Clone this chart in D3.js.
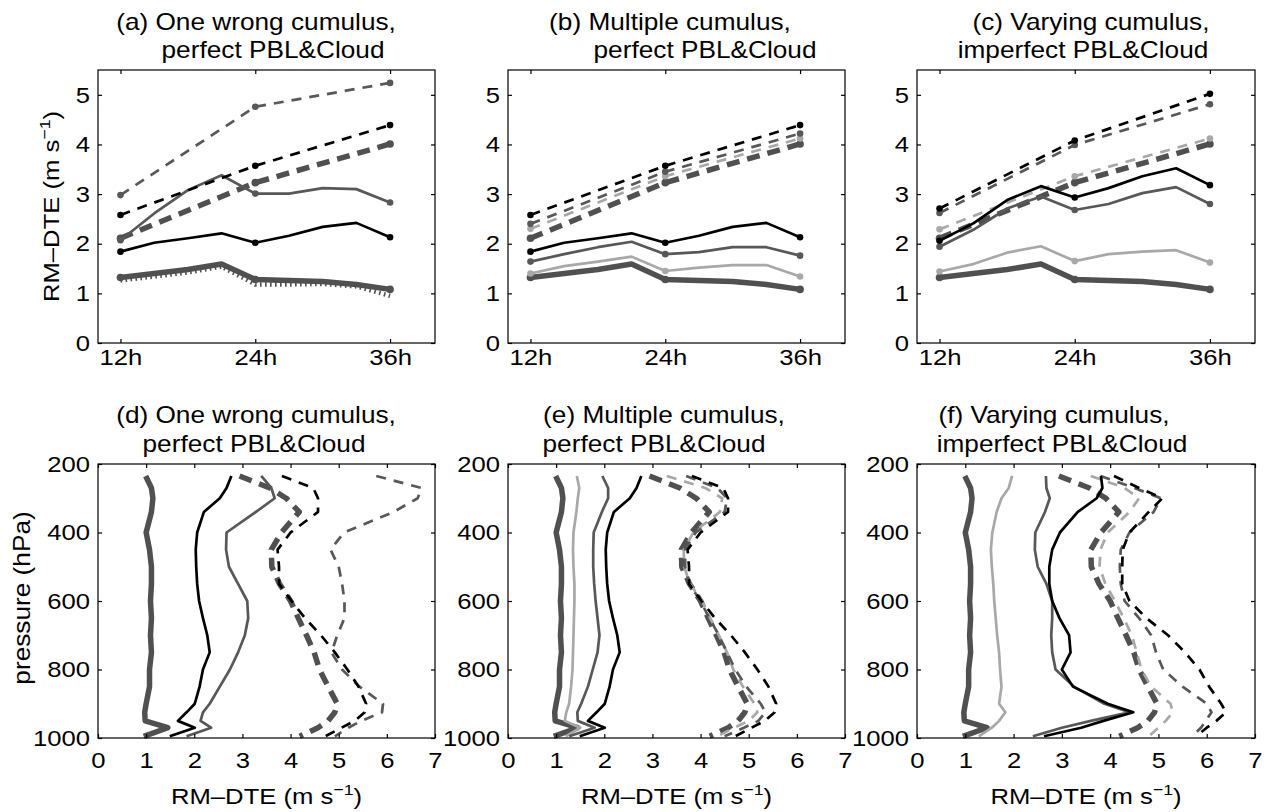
<!DOCTYPE html>
<html>
<head>
<meta charset="utf-8">
<script src="https://cdn.jsdelivr.net/npm/d3@7"></script>
<style>
  body { margin: 0; background: #fff; }
  svg text { font-family: "Liberation Sans", Arial, Helvetica, sans-serif; fill: #000; }
</style>
</head>
<body>
<div id="chart"></div>
<script>
const W = 1264, H = 812;
const SX = 1.14; // the original figure is stretched horizontally

// ---- time axis (a)-(c)
const hours = [12, 15, 18, 21, 24, 27, 30, 33, 36];
const markHours = [12, 24, 36];
const timeTickLabels = ["12h", "24h", "36h"];
const rmTicks = [0, 1, 2, 3, 4, 5];

// ---- vertical profiles (d)-(f)
const levels = [235, 270, 300, 340, 400, 450, 500, 550, 600, 650, 700, 750, 800, 850, 900, 925, 950, 970, 995];
const pressureTicks = [200, 400, 600, 800, 1000];
const dteTicks = [0, 1, 2, 3, 4, 5, 6, 7];

// time series, solid = every 3h, dashed = 12/24/36h
const ctrlSolid      = [1.32, 1.40, 1.48, 1.59, 1.28, 1.26, 1.24, 1.18, 1.08];
const ctrlDashed     = [2.11, 3.23, 4.01];
const aDotted        = [1.26, 1.34, 1.42, 1.54, 1.18, 1.18, 1.19, 1.14, 0.95];
const oneBlackSolid  = [1.84, 2.02, 2.11, 2.21, 2.02, 2.16, 2.34, 2.42, 2.13];
const oneBlackDashed = [2.58, 3.57, 4.39];
const aGraySolid     = [2.07, 2.61, 3.08, 3.38, 3.01, 3.01, 3.12, 3.10, 2.83];
const aGrayDashed    = [2.98, 4.76, 5.24];
const bGraySolid     = [1.64, 1.79, 1.93, 2.04, 1.79, 1.83, 1.93, 1.93, 1.76];
const bGrayDashed    = [2.40, 3.45, 4.22];
const bLightSolid    = [1.40, 1.55, 1.64, 1.74, 1.45, 1.52, 1.57, 1.57, 1.34];
const bLightDashed   = [2.30, 3.36, 4.12];
const cBlackSolid    = [2.06, 2.41, 2.88, 3.16, 2.93, 3.12, 3.36, 3.52, 3.18];
const cBlackDashed   = [2.71, 4.08, 5.02];
const cGraySolid     = [1.94, 2.28, 2.71, 2.95, 2.68, 2.80, 3.02, 3.14, 2.80];
const cGrayDashed    = [2.62, 3.99, 4.81];
const cLightSolid    = [1.44, 1.59, 1.82, 1.95, 1.65, 1.79, 1.84, 1.87, 1.62];
const cLightDashed   = [2.29, 3.36, 4.12];

// profiles, one value per level
const ctrlSolidProf  = [0.99, 1.11, 1.14, 1.11, 1.00, 1.07, 1.11, 1.11, 1.09, 1.11, 1.09, 1.11, 1.07, 1.07, 1.00, 0.97, 0.98, 1.45, 0.95];
const ctrlDashedProf = [2.94, 3.57, 3.91, 4.18, 3.81, 3.60, 3.61, 3.77, 4.00, 4.16, 4.33, 4.49, 4.60, 4.78, 4.97, 4.92, 4.78, 4.57, 4.19];
const oneBlackProf   = [2.77, 2.67, 2.53, 2.20, 2.06, 2.03, 2.04, 2.06, 2.10, 2.18, 2.27, 2.32, 2.18, 2.11, 2.01, 1.84, 1.66, 2.01, 1.49];
const oneBlackDProf  = [3.82, 4.47, 4.57, 4.57, 4.00, 3.73, 3.76, 3.76, 4.02, 4.30, 4.63, 4.92, 5.18, 5.41, 5.57, 5.54, 5.33, 5.06, 4.72];
const dGrayProf      = [3.39, 3.60, 3.67, 3.28, 2.67, 2.66, 2.72, 2.91, 3.10, 3.12, 3.05, 2.91, 2.74, 2.53, 2.32, 2.18, 2.13, 2.35, 1.84];
const dGrayDProf     = [5.78, 6.72, 6.64, 6.14, 5.11, 4.83, 5.00, 5.07, 5.12, 5.12, 4.97, 4.85, 5.07, 5.43, 5.92, 5.90, 5.47, 5.20, 4.92];
const eGrayProf      = [1.96, 2.08, 2.08, 1.95, 1.78, 1.77, 1.77, 1.79, 1.82, 1.86, 1.90, 1.86, 1.76, 1.66, 1.52, 1.44, 1.45, 1.80, 1.27];
const eGrayDProf     = [3.70, 4.35, 4.55, 4.50, 3.90, 3.68, 3.68, 3.76, 4.00, 4.18, 4.38, 4.55, 4.72, 4.95, 5.25, 5.35, 5.20, 4.90, 4.50];
const eLightProf     = [1.43, 1.48, 1.45, 1.42, 1.36, 1.35, 1.36, 1.38, 1.38, 1.37, 1.36, 1.35, 1.34, 1.31, 1.27, 1.21, 1.18, 1.50, 1.20];
const eLightDProf    = [3.30, 4.10, 4.45, 4.40, 3.85, 3.65, 3.66, 3.78, 4.03, 4.20, 4.38, 4.55, 4.68, 4.88, 5.12, 5.18, 5.00, 4.70, 4.35];
const fBlackProf     = [3.81, 3.84, 3.72, 3.33, 2.96, 2.80, 2.74, 2.74, 2.80, 2.95, 3.15, 3.18, 3.00, 3.23, 3.95, 4.48, 3.86, 3.40, 2.63];
const fBlackDProf    = [4.08, 4.60, 5.08, 4.80, 4.40, 4.26, 4.25, 4.25, 4.40, 4.75, 5.20, 5.55, 5.85, 6.05, 6.30, 6.40, 6.20, 6.00, 5.78];
const fGrayProf      = [2.67, 2.68, 2.75, 2.65, 2.45, 2.44, 2.50, 2.68, 2.80, 2.80, 2.78, 2.80, 2.87, 3.25, 3.88, 4.40, 3.60, 3.00, 2.40];
const fGrayDProf     = [3.80, 4.50, 5.05, 4.90, 4.40, 4.22, 4.20, 4.22, 4.30, 4.60, 4.85, 4.95, 5.10, 5.50, 6.00, 6.10, 5.98, 5.88, 5.70];
const fLightProf     = [1.97, 1.90, 1.75, 1.65, 1.56, 1.53, 1.55, 1.58, 1.60, 1.63, 1.66, 1.70, 1.72, 1.75, 1.70, 1.83, 1.70, 1.55, 1.28];
const fLightDProf    = [3.60, 4.30, 4.60, 4.40, 3.95, 3.80, 3.78, 3.90, 4.10, 4.28, 4.45, 4.55, 4.65, 4.85, 5.25, 5.30, 5.15, 5.00, 4.80];

const titles = [
  ["(a) One wrong cumulus,", "perfect PBL&Cloud"],
  ["(b) Multiple cumulus,", "perfect PBL&Cloud"],
  ["(c) Varying cumulus,", "imperfect PBL&Cloud"],
  ["(d) One wrong cumulus,", "perfect PBL&Cloud"],
  ["(e) Multiple cumulus,", "perfect PBL&Cloud"],
  ["(f) Varying cumulus,", "imperfect PBL&Cloud"]
];

const styles = {
  ctrl:  { color: "#505050", width: 5.5, dash: "13,8", r: 3.8 },
  black: { color: "#000000", width: 2.7, dash: "10,8", r: 3.3 },
  gray:  { color: "#585858", width: 2.7, dash: "10,8", r: 3.3 },
  light: { color: "#a8a8a8", width: 2.7, dash: "10,8", r: 3.3 },
  dot:   { color: "#505050", width: 4.5, dash: "1.6,3.4", r: 0 }
};

// [style, values, dashed]
const topSeries = [
  [["ctrl", ctrlSolid], ["ctrl", ctrlDashed, true], ["dot", aDotted],
   ["gray", aGraySolid], ["gray", aGrayDashed, true], ["black", oneBlackSolid], ["black", oneBlackDashed, true]],
  [["ctrl", ctrlSolid], ["ctrl", ctrlDashed, true], ["light", bLightSolid], ["light", bLightDashed, true],
   ["gray", bGraySolid], ["gray", bGrayDashed, true], ["black", oneBlackSolid], ["black", oneBlackDashed, true]],
  [["ctrl", ctrlSolid], ["ctrl", ctrlDashed, true], ["light", cLightSolid], ["light", cLightDashed, true],
   ["gray", cGraySolid], ["gray", cGrayDashed, true], ["black", cBlackSolid], ["black", cBlackDashed, true]]
];
const profSeries = [
  [["ctrl", ctrlSolidProf], ["ctrl", ctrlDashedProf, true], ["gray", dGrayProf], ["gray", dGrayDProf, true],
   ["black", oneBlackProf], ["black", oneBlackDProf, true]],
  [["ctrl", ctrlSolidProf], ["ctrl", ctrlDashedProf, true], ["light", eLightProf], ["light", eLightDProf, true],
   ["gray", eGrayProf], ["gray", eGrayDProf, true], ["black", oneBlackProf], ["black", oneBlackDProf, true]],
  [["ctrl", ctrlSolidProf], ["ctrl", ctrlDashedProf, true], ["light", fLightProf], ["light", fLightDProf, true],
   ["gray", fGrayProf], ["gray", fGrayDProf, true], ["black", fBlackProf], ["black", fBlackDProf, true]]
];

// layout
const colX = [[98, 435], [508, 845], [917, 1255]];
const topRow = { top: 70, bottom: 343, t1: 30, t2: 57.5 };
const botRow = { top: 464, bottom: 738, t1: 423, t2: 452 };
const titleX = [[256, 273], [670, 705], [1091, 1083], [256, 254], [664, 654], [1054, 1062]];

const svg = d3.select("#chart").append("svg")
  .attr("width", W).attr("height", H);

function stretched(x, y, size, rotate) {
  return svg.append("text")
    .attr("transform", `translate(${x},${y})` + (rotate ? " rotate(-90)" : "") + ` scale(${SX},1)`)
    .attr("text-anchor", "middle")
    .attr("font-size", size);
}

function dteLabel(t) {
  t.append("tspan").text("RM\u2013DTE (m s");
  t.append("tspan").attr("font-size", 15.5).attr("dy", -9).text("\u22121");
  t.append("tspan").attr("dy", 9).text(")");
}

function axes(g, x, y, top, bottom, xTicks, xFmt, yTicks, xPad) {
  const fs = 22.5;
  const ax = [
    g.append("g").attr("transform", `translate(0,${bottom})`)
      .call(d3.axisBottom(x).tickValues(xTicks).tickFormat(xFmt).tickSizeInner(-4).tickSizeOuter(0).tickPadding(xPad)),
    g.append("g").attr("transform", `translate(0,${top})`)
      .call(d3.axisTop(x).tickValues(xTicks).tickFormat("").tickSizeInner(-4).tickSizeOuter(0)),
    g.append("g").attr("transform", `translate(${x.range()[0]},0)`)
      .call(d3.axisLeft(y).tickValues(yTicks).tickFormat(d3.format("d")).tickSizeInner(-4).tickSizeOuter(0).tickPadding(7)),
    g.append("g").attr("transform", `translate(${x.range()[1]},0)`)
      .call(d3.axisRight(y).tickValues(yTicks).tickFormat("").tickSizeInner(-4).tickSizeOuter(0))
  ];
  ax.forEach(a => {
    a.attr("font-size", fs);
    a.select(".domain").remove();
    a.selectAll(".tick line").attr("stroke", "#000").attr("stroke-width", 1.2);
    a.selectAll(".tick text").attr("transform", `scale(${SX},1)`);
  });
  g.append("rect")
    .attr("x", x.range()[0]).attr("y", top)
    .attr("width", x.range()[1] - x.range()[0]).attr("height", bottom - top)
    .attr("fill", "none").attr("stroke", "#000").attr("stroke-width", 1.2);
}

function drawSeries(g, s, px, py) {
  const st = styles[s[0]];
  const vals = s[1];
  g.append("path")
    .datum(vals)
    .attr("fill", "none")
    .attr("stroke", st.color)
    .attr("stroke-width", st.width)
    .attr("stroke-linejoin", "round")
    .attr("stroke-dasharray", s[2] || s[0] === "dot" ? st.dash : null)
    .attr("d", d3.line().x((d, i) => px(d, i, vals)).y((d, i) => py(d, i, vals)));
  return st;
}

// top row: time series
topSeries.forEach((series, k) => {
  const g = svg.append("g");
  const x = d3.scaleLinear([10, 40], colX[k]);
  const y = d3.scaleLinear([0, 5.5], [topRow.bottom, topRow.top]);
  const hx = vals => (vals.length === hours.length ? hours : markHours);
  series.forEach(s => {
    const st = drawSeries(g, s, (d, i, v) => x(hx(v)[i]), d => y(d));
    if (st.r > 0) {
      const hs = hx(s[1]);
      const pts = s[1].map((v, i) => [hs[i], v]).filter(p => markHours.includes(p[0]));
      g.selectAll(null).data(pts).join("circle")
        .attr("cx", p => x(p[0])).attr("cy", p => y(p[1]))
        .attr("r", st.r).attr("fill", st.color);
    }
  });
  axes(g, x, y, topRow.top, topRow.bottom, markHours, (d, i) => timeTickLabels[i], rmTicks, 6);
});

// bottom row: profiles
profSeries.forEach((series, k) => {
  const g = svg.append("g");
  const x = d3.scaleLinear([0, 7], colX[k]);
  const y = d3.scaleLinear([200, 1000], [botRow.top, botRow.bottom]);
  series.forEach(s => drawSeries(g, s, d => x(d), (d, i) => y(levels[i])));
  axes(g, x, y, botRow.top, botRow.bottom, dteTicks, d3.format("d"), pressureTicks, 14);
  dteLabel(stretched((colX[k][0] + colX[k][1]) / 2, 804, 22.5));
});

// titles
titles.forEach((t, k) => {
  const row = k < 3 ? topRow : botRow;
  stretched(titleX[k][0], row.t1, 23).text(t[0]);
  stretched(titleX[k][1], row.t2, 23).text(t[1]);
});

// y labels
dteLabel(stretched(58.5, (topRow.top + topRow.bottom) / 2, 22.5, true));
stretched(30, (botRow.top + botRow.bottom) / 2 - 3, 23, true).text("pressure (hPa)");
</script>
</body>
</html>
